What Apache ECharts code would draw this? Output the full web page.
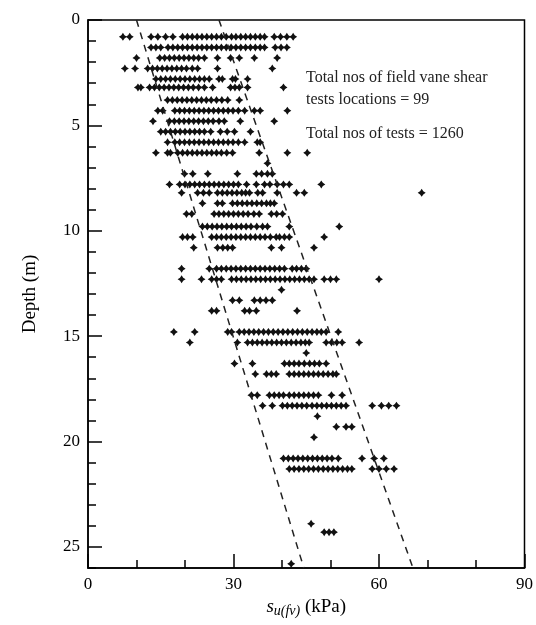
<!DOCTYPE html>
<html>
<head>
<meta charset="utf-8">
<script src="https://cdn.jsdelivr.net/npm/echarts@6/dist/echarts.min.js"></script>
<style>
  html, body { margin: 0; padding: 0; background: #fff; }
  #chart { width: 536px; height: 625px; }
</style>
</head>
<body>
<div id="chart"></div>
<script>
// depth of each test row (m)
const rowDepths = [0.8, 1.3, 1.8, 2.3, 2.8, 3.2, 3.8, 4.3, 4.8, 5.3, 5.8, 6.3,
  7.3, 7.8, 8.2, 8.7, 9.2, 9.8, 10.3, 10.8, 11.8, 12.3, 13.3, 13.8,
  14.8, 15.3, 16.3, 16.8, 17.8, 18.3, 19.3, 20.8, 21.3]

// su(fv) values (kPa) read along each row
const rowValues = [
  [7.2, 8.6, 13, 14.4, 16, 17.5, 19.5, 20.5, 21.5, 22.5, 23.5, 24.5, 25.5, 26.5, 27.5, 28.5, 29.6, 30.5, 31.5, 32.5, 33.5, 34.5, 35.5, 36.4, 38.4, 39.7, 41, 42.3],
  [13, 14, 15, 16.5, 17.5, 18.5, 19.5, 20.5, 21.5, 22.5, 23.5, 24.5, 25.5, 26.5, 27.5, 28.5, 29.5, 30.5, 31.5, 32.5, 33.5, 34.5, 35.5, 36.4, 38.6, 39.8, 41],
  [10, 14.8, 15.8, 16.8, 17.8, 18.8, 19.8, 20.8, 21.8, 22.8, 24, 26.7, 29.4, 31.2, 34.3, 39],
  [7.6, 9.7, 12.3, 13.3, 14.3, 15.3, 16.3, 17.3, 18.3, 19.3, 20.3, 21.5, 22.6, 26.7, 38],
  [14, 15, 16, 17, 18, 19, 20, 21, 22, 23, 24, 25, 27, 27.7, 29.8, 30.4, 32.9],
  [10.3, 10.9, 12.7, 13.7, 14.7, 15.7, 16.7, 17.7, 18.7, 19.7, 20.7, 21.7, 22.8, 24, 25.7, 29.4, 30.3, 31.2, 32.9, 40.3],
  [16.4, 17.4, 18.4, 19.4, 20.4, 21.4, 22.4, 23.4, 24.4, 25.4, 26.5, 27.6, 28.8, 31.2],
  [14.4, 15.4, 17.9, 18.9, 19.9, 20.9, 21.9, 22.9, 23.9, 24.9, 25.9, 26.9, 27.9, 28.9, 29.9, 31, 32.3, 34.3, 35.5, 41.1],
  [13.4, 16.8, 17.8, 18.8, 19.8, 20.8, 21.8, 22.8, 23.8, 24.8, 25.8, 27, 28.1, 31.4, 38.4],
  [15, 16, 17, 18, 19, 20, 21, 22, 23, 24, 25.3, 27.3, 28.7, 30.2, 33.5],
  [16.4, 17.9, 18.9, 19.9, 20.9, 21.9, 22.9, 23.9, 24.9, 25.9, 26.9, 27.9, 28.9, 29.9, 31, 32.3, 34.9, 35.5],
  [14, 16.4, 17, 18.5, 19.5, 20.5, 21.5, 22.5, 23.5, 24.5, 25.5, 26.5, 27.5, 28.6, 29.8, 35.3, 41.1, 45.2],
  [19.9, 21.6, 24.7, 30.8, 34.7, 35.8, 37, 38],
  [16.8, 18.9, 20, 21, 22, 23, 24, 25, 26, 27, 28, 29, 30, 31, 32.7, 34.7, 36.4, 37.5, 39, 40.3, 41.5, 48.1],
  [19.3, 22.6, 23.8, 25, 26.7, 27.7, 28.7, 29.7, 30.7, 31.7, 32.5, 33.3, 35, 36, 39, 43, 44.6, 68.8],
  [23.6, 26.7, 27.7, 29.8, 30.8, 31.8, 32.8, 33.8, 34.8, 35.8, 36.8, 37.6, 38.4],
  [20.3, 21.4, 26, 27, 28, 29, 30, 31, 32, 33, 34.2, 35.3, 37.8, 38.9, 40.1],
  [23.6, 24.6, 25.6, 26.6, 27.6, 28.6, 29.6, 30.6, 31.6, 32.6, 33.6, 34.8, 36, 37, 41.5, 51.8],
  [19.5, 20.5, 21.6, 25.5, 26.5, 27.5, 28.5, 29.5, 30.5, 31.5, 32.5, 33.5, 34.5, 35.5, 36.5, 37.6, 38.8, 39.5, 40.5, 41.5, 48.7],
  [21.8, 26.7, 27.8, 28.8, 29.8, 37.8, 39.9, 46.6],
  [19.3, 25, 26.5, 27.5, 28.5, 29.5, 30.5, 31.5, 32.5, 33.5, 34.5, 35.5, 36.5, 37.5, 38.5, 39.5, 40.5, 42.1, 43, 44, 45],
  [19.3, 23.4, 25.5, 26.5, 27.5, 29.6, 30.6, 31.6, 32.6, 33.6, 34.6, 35.6, 36.6, 37.6, 38.6, 39.6, 40.6, 41.6, 42.6, 43.6, 44.6, 45.6, 46.6, 48.7, 50, 51.2, 60],
  [29.8, 31.2, 34.3, 35.5, 36.7, 38],
  [25.5, 26.5, 32.3, 33.3, 34.7, 43.1],
  [17.7, 22, 28.8, 29.6, 31.2, 32.2, 33.2, 34.2, 35.2, 36.2, 37.2, 38.2, 39.2, 40.2, 41.2, 42.2, 43.2, 44.2, 45.2, 46.2, 47.2, 48.1, 49.1, 51.6],
  [21, 30.8, 32.9, 33.9, 34.9, 35.9, 36.9, 37.9, 38.9, 39.9, 40.9, 41.9, 42.9, 43.9, 44.8, 45.6, 49.1, 50.2, 51.3, 52.4, 55.9],
  [30.2, 33.9, 40.5, 41.5, 42.5, 43.5, 44.6, 45.7, 46.7, 47.7, 49.1],
  [34.5, 36.8, 37.8, 38.8, 41.5, 42.5, 43.5, 44.5, 45.5, 46.5, 47.5, 48.5, 49.5, 50.5, 51.2],
  [33.7, 34.9, 37.4, 38.4, 39.4, 40.3, 41.5, 42.5, 43.5, 44.5, 45.5, 46.5, 47.5, 50.2, 52.4],
  [36, 38, 40.1, 41.1, 42.1, 43.1, 44.1, 45.1, 46.2, 47.2, 48.2, 49.2, 50.2, 51.2, 52.2, 53.2, 58.6, 60.5, 62, 63.6],
  [51.2, 53.2, 54.4],
  [40.3, 41.3, 42.3, 43.3, 44.3, 45.3, 46.3, 47.3, 48.3, 49.3, 50.3, 51.6, 56.5, 59, 61],
  [41.5, 42.5, 43.5, 44.5, 45.5, 46.5, 47.5, 48.5, 49.5, 50.5, 51.5, 52.5, 53.5, 54.4, 58.6, 60, 61.5, 63.1]
]

// single tests off the main rows: [su, depth]
const isolatedPoints = [[37, 6.8], [39.9, 12.8], [45, 15.8], [47.3, 18.8], [46.6, 19.8],
  [46, 23.9], [48.7, 24.3], [49.7, 24.3], [50.7, 24.3], [41.9, 25.8]]

// dashed bounding lines: [su, depth]
const lowerBound = [[10, 0], [44.5, 26]]
const upperBound = [[27, 0], [67, 26]]

const xTicks = [0, 30, 60, 90]
const yTicks = [0, 5, 10, 15, 20, 25]

const points = []
rowDepths.forEach((d, i) => {
  rowValues[i].forEach(v => points.push([v, d]))
})
isolatedPoints.forEach(p => points.push(p))

const serif = 'Liberation Serif'
// fat four-pointed star, close to the printed marker
const star = 'path://M5,0 L7,3 L10,5 L7,7 L5,10 L3,7 L0,5 L3,3 Z'

const chart = echarts.init(document.getElementById('chart'))

const option = {
  animation: false,
  grid: {
    left: 88, right: 11, top: 20, bottom: 57,
    show: true, borderColor: '#000', borderWidth: 1.5, backgroundColor: 'transparent'
  },
  xAxis: {
    type: 'value',
    min: xTicks[0], max: xTicks[xTicks.length - 1], interval: 30,
    name: '{i|s}{sub|u(fv)}{n| (kPa)}',
    nameLocation: 'middle',
    nameGap: 22,
    nameTextStyle: {
      rich: {
        i: { fontFamily: serif, fontStyle: 'italic', fontSize: 19, color: '#000' },
        sub: { fontFamily: serif, fontStyle: 'italic', fontSize: 14, color: '#000', verticalAlign: 'bottom', padding: [8, 0, 0, 0] },
        n: { fontFamily: serif, fontSize: 19, color: '#000' }
      }
    },
    axisLine: { onZero: false, lineStyle: { color: '#000', width: 1.5 } },
    axisTick: { inside: true, length: 14, lineStyle: { color: '#000', width: 1.5 } },
    minorTick: { show: true, splitNumber: 3, length: 8, lineStyle: { color: '#000', width: 1.5 } },
    axisLabel: { fontFamily: serif, fontSize: 17, color: '#000', margin: 8 },
    splitLine: { show: false }
  },
  yAxis: [
    {
      type: 'value', inverse: true,
      min: yTicks[0], max: 26, interval: 5,
      name: 'Depth (m)',
      nameLocation: 'middle',
      nameGap: 48,
      nameTextStyle: { fontFamily: serif, fontSize: 19, color: '#000' },
      axisLine: { onZero: false, lineStyle: { color: '#000', width: 1.5 } },
      axisTick: { inside: true, length: 14, lineStyle: { color: '#000', width: 1.5 } },
      axisLabel: { fontFamily: serif, fontSize: 17, color: '#000', margin: 8, showMaxLabel: false },
      splitLine: { show: false }
    },
    {
      type: 'value', inverse: true,
      min: 0, max: 26, interval: 1,
      position: 'left',
      axisLine: { show: false, onZero: false },
      axisTick: { inside: true, length: 8, lineStyle: { color: '#000', width: 1.5 } },
      axisLabel: { show: false },
      splitLine: { show: false }
    }
  ],
  series: [
    {
      type: 'scatter',
      data: points,
      symbol: star,
      symbolSize: 8,
      itemStyle: { color: '#111', opacity: 1 }
    },
    {
      type: 'line',
      data: lowerBound,
      symbol: 'none',
      lineStyle: { color: '#222', width: 1.5, type: [7, 6] }
    },
    {
      type: 'line',
      data: upperBound,
      symbol: 'none',
      lineStyle: { color: '#222', width: 1.5, type: [7, 6] }
    }
  ],
  graphic: [
    { type: 'text', left: 306, top: 70, style: { text: 'Total nos of field vane shear', fontFamily: serif, fontSize: 16, fill: '#222' } },
    { type: 'text', left: 306, top: 92, style: { text: 'tests locations = 99', fontFamily: serif, fontSize: 16, fill: '#222' } },
    { type: 'text', left: 306, top: 126, style: { text: 'Total nos of tests = 1260', fontFamily: serif, fontSize: 16, fill: '#222' } }
  ]
}

chart.setOption(option)
</script>
</body>
</html>
